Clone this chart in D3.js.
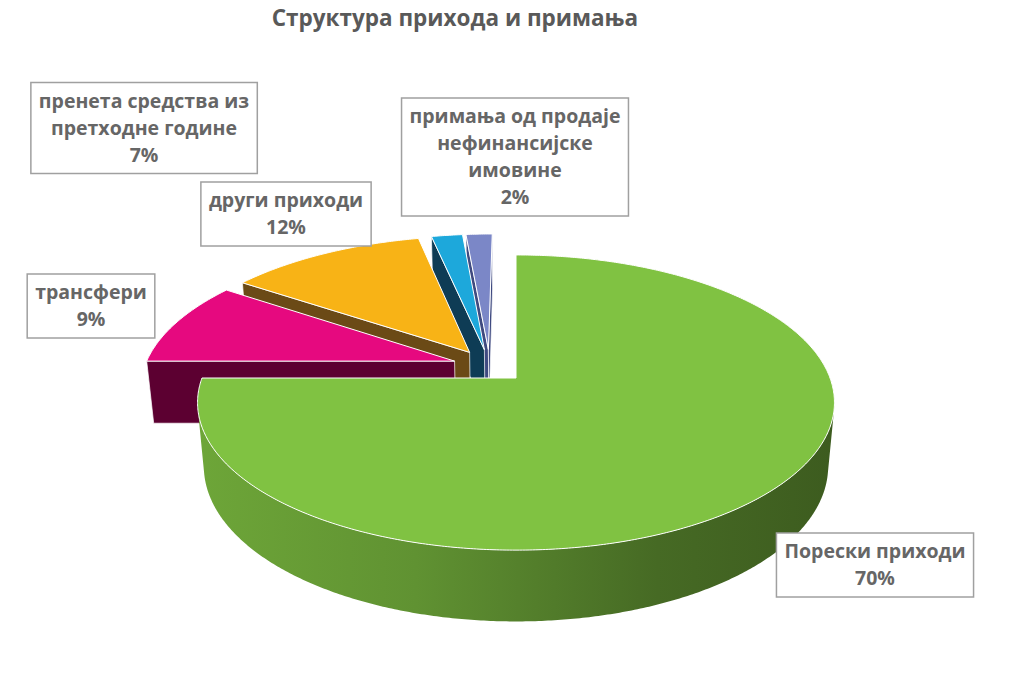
<!DOCTYPE html>
<html>
<head>
<meta charset="utf-8">
<title>Структура прихода и примања</title>
<script src="https://cdn.jsdelivr.net/npm/d3@7"></script>
<style>
  body { margin: 0; background: #ffffff; }
  svg { display: block; font-family: "Open Sans", "Noto Sans", sans-serif; }
</style>
</head>
<body>
<script>
// data (slice sizes as drawn, printed labels as shown in the chart)
var categories = ["Порески приходи", "трансфери", "други приходи",
                  "пренета средства из претходне године",
                  "примања од продаје нефинансијске имовине"];
var shares = [75, 9.5, 12, 1.9, 1.6];
var pctLabels = ["70%", "9%", "12%", "7%", "2%"];
var labelLines = [["Порески приходи"], ["трансфери"], ["други приходи"],
                  ["пренета средства из", "претходне године"],
                  ["примања од продаје", "нефинансијске", "имовине"]];
var topColors  = ["#80c242", "#e6097f", "#f8b316", "#1da8db", "#7b87c7"];
var sideColors = ["#3d6b2a", "#5c0031", "#6b4a16", "#0e3c55", "#3f4a80"];

var W = 1013, H = 683;

var svg = d3.select("body").append("svg")
    .attr("width", W)
    .attr("height", H);
var defs = svg.append("defs");

// title
svg.append("text")
    .attr("x", 455)
    .attr("y", 26)
    .attr("text-anchor", "middle")
    .attr("font-size", "22.5px")
    .attr("font-weight", "bold")
    .attr("fill", "#595959")
    .text("Структура прихода и примања");

// perspective camera for the 3d pie
var ox = 516, oy = 378;          // screen point of world origin
var sinE = 0.457, cosE = Math.sqrt(1 - sinE * sinE);
var D = 5.35, f = 1680;          // camera distance, focal length (radius = 1)
var thick = 0.23, explode = 0.12;
var cam = [0, -D * cosE, D * sinE];

function project(x, y, z) {
    var depth = D + y * cosE - z * sinE;
    return [ox + f * x / depth, oy - f * (y * sinE + z * cosE) / depth];
}

var pie = d3.pie().sort(null).value(function(d) { return d; });
var arcs = pie(shares);

// every slice is pulled out; the first slice's apex sits on the origin
var mid0 = (arcs[0].startAngle + arcs[0].endAngle) / 2;
var centre = [-explode * Math.sin(mid0), -explode * Math.cos(mid0)];

arcs.forEach(function(a, i) {
    var mid = (a.startAngle + a.endAngle) / 2;
    a.i = i;
    a.off = [centre[0] + explode * Math.sin(mid), centre[1] + explode * Math.cos(mid)];
});

function rim(a, ang, z) {
    return project(a.off[0] + Math.sin(ang), a.off[1] + Math.cos(ang), z);
}
function apex(a, z) {
    return project(a.off[0], a.off[1], z);
}
function facing(n, p) {
    return n[0] * (cam[0] - p[0]) + n[1] * (cam[1] - p[1]) > 0;
}
function angles(a) {
    var n = Math.max(2, Math.ceil((a.endAngle - a.startAngle) / (Math.PI / 360)));
    return d3.range(n + 1).map(function(k) {
        return a.startAngle + (a.endAngle - a.startAngle) * k / n;
    });
}

var line = d3.line();

// side shading gradient across the pie width
var xs = [project(-1.2, 0, 0)[0], project(1, 0, 0)[0]];

arcs.forEach(function(a, i) {
    var c = d3.color(topColors[i]);
    var grad = defs.append("linearGradient")
        .attr("id", "wall" + i)
        .attr("gradientUnits", "userSpaceOnUse")
        .attr("x1", xs[0]).attr("x2", xs[1])
        .attr("y1", 0).attr("y2", 0);
    grad.append("stop").attr("offset", "0%").attr("stop-color", c.darker(0.35));
    grad.append("stop").attr("offset", "40%").attr("stop-color", c.darker(0.8));
    grad.append("stop").attr("offset", "75%").attr("stop-color", c.darker(1.7));
    grad.append("stop").attr("offset", "100%").attr("stop-color", c.darker(2.1));
});

// far slices first
var order = arcs.slice().sort(function(p, q) { return q.off[1] - p.off[1]; });

var slices = svg.append("g").attr("class", "pie");

order.forEach(function(a) {
    var g = slices.append("g").attr("class", "slice");
    var i = a.i;

    // radial walls
    [[a.startAngle, -1], [a.endAngle, 1]].forEach(function(w) {
        var ang = w[0];
        var n = w[1] < 0 ? [-Math.cos(ang), Math.sin(ang)] : [Math.cos(ang), -Math.sin(ang)];
        var m = [a.off[0] + Math.sin(ang) / 2, a.off[1] + Math.cos(ang) / 2];
        if (!facing(n, m)) return;
        var pts = [apex(a, 0), rim(a, ang, 0), rim(a, ang, -thick), apex(a, -thick)];
        g.append("path")
            .attr("d", line(pts) + "Z")
            .attr("fill", sideColors[i])
            .attr("stroke", "#ffffff")
            .attr("stroke-width", 0.7)
            .attr("stroke-linejoin", "round");
    });

    // outer wall, only the part turned to the camera
    var runs = [], run = [];
    angles(a).forEach(function(ang) {
        var n = [Math.sin(ang), Math.cos(ang)];
        var p = [a.off[0] + n[0], a.off[1] + n[1]];
        if (facing(n, p)) { run.push(ang); }
        else if (run.length) { runs.push(run); run = []; }
    });
    if (run.length) runs.push(run);
    runs.forEach(function(r) {
        if (r.length < 2) return;
        var pts = r.map(function(ang) { return rim(a, ang, 0); })
            .concat(r.slice().reverse().map(function(ang) { return rim(a, ang, -thick); }));
        g.append("path")
            .attr("d", line(pts) + "Z")
            .attr("fill", "url(#wall" + i + ")");
    });

    // top face
    var top = [apex(a, 0)].concat(angles(a).map(function(ang) { return rim(a, ang, 0); }));
    g.append("path")
        .attr("d", line(top) + "Z")
        .attr("fill", topColors[i])
        .attr("stroke", "#ffffff")
        .attr("stroke-width", 1)
        .attr("stroke-linejoin", "round");
});

// data labels in boxes
var labelPos = [[875, 565], [91, 306], [286, 214], [144, 128], [515, 157]];
var lineH = 27;

arcs.forEach(function(a, i) {
    var rows = labelLines[i].concat([pctLabels[i]]);
    var g = svg.append("g").attr("class", "label");
    var box = g.append("rect");
    var t = g.append("text")
        .attr("text-anchor", "middle")
        .attr("font-size", "19.5px")
        .attr("font-weight", "bold")
        .attr("fill", "#666666");
    var y0 = labelPos[i][1] - (rows.length - 1) * lineH / 2;
    rows.forEach(function(r, k) {
        t.append("tspan")
            .attr("x", labelPos[i][0])
            .attr("y", y0 + k * lineH)
            .attr("dy", "0.35em")
            .text(r);
    });
    var bb = t.node().getBBox();
    var h = rows.length * lineH + 10;
    box.attr("x", bb.x - 8)
        .attr("y", labelPos[i][1] - h / 2)
        .attr("width", bb.width + 16)
        .attr("height", h)
        .attr("fill", "#ffffff")
        .attr("stroke", "#a0a0a0")
        .attr("stroke-width", 1.5);
});
</script>
</body>
</html>
